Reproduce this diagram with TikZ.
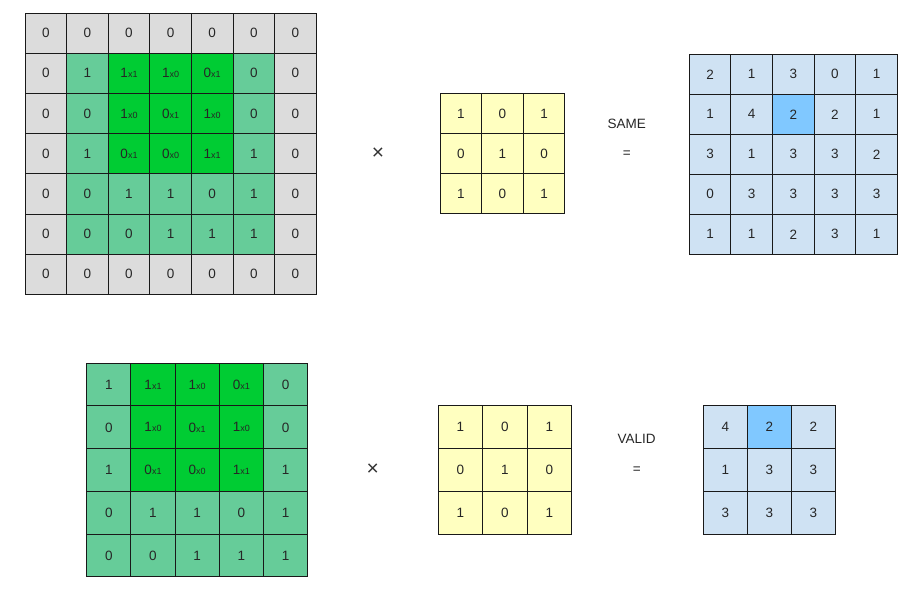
\documentclass[tikz,border=0pt]{standalone}
\usepackage{fontspec}
\setmainfont{Liberation Sans}
\usepackage{tikz}
\usetikzlibrary{positioning}

\definecolor{padgray}{RGB}{220,220,220}
\definecolor{inputgreen}{RGB}{102,204,153}
\definecolor{windowgreen}{RGB}{0,204,51}
\definecolor{kernelyellow}{RGB}{255,255,192}
\definecolor{outblue}{RGB}{207,226,243}
\definecolor{hiblue}{RGB}{128,200,255}

% small weight written after a value under the window
\newcommand{\kwt}[1]{{\fontsize{9}{9}\selectfont x#1}}

\tikzset{
  cell/.style={draw=black!90, line width=0.9pt, inner sep=0pt,
    font=\fontsize{13.5}{15}\selectfont, text=black!85},
  smallcell/.style={cell, minimum width=41.6pt, minimum height=40.2pt},
  bigcell/.style={cell, minimum width=44.2pt, minimum height=42.9pt},
  optext/.style={font=\fontsize{13.5}{15}\selectfont, text=black!85, inner sep=0pt},
  timestext/.style={font=\fontsize{21}{21}\selectfont, text=black!80, inner sep=0pt},
}

\begin{document}
\begin{tikzpicture}[x=1pt, y=-1pt]
    \useasboundingbox (0,0) rectangle (911,589);

    % padded input (7x7), window in rows 2-4, columns 3-5
    \foreach \vals [count=\r] in {{0,0,0,0,0,0,0},{0,1,1,1,0,0,0},{0,0,1,0,1,0,0},{0,1,0,0,1,1,0},{0,0,1,1,0,1,0},{0,0,0,1,1,1,0},{0,0,0,0,0,0,0}} {
        \foreach \v [count=\c] in \vals {
            \pgfmathtruncatemacro{\edge}{(\r==1 || \r==7 || \c==1 || \c==7) ? 1 : 0}
            \pgfmathtruncatemacro{\win}{(\r>1 && \r<5 && \c>2 && \c<6) ? 1 : 0}
            \pgfmathtruncatemacro{\w}{1-mod(\r+\c+1,2)}
            \ifnum\edge=1 \def\fc{padgray}\else\ifnum\win=1 \def\fc{windowgreen}\else\def\fc{inputgreen}\fi\fi
            \ifnum\win=1 \def\txt{\v\kwt{\w}}\else\def\txt{\v}\fi
            \node[smallcell, fill=\fc] (pad-\r-\c) at ({25+41.6*(\c-0.5)}, {13+40.2*(\r-0.5)}) {\txt};
        }
    }

    % kernel
    \foreach \vals [count=\r] in {{1,0,1},{0,1,0},{1,0,1}} {
        \foreach \v [count=\c] in \vals {
            \node[smallcell, fill=kernelyellow] (ka-\r-\c) at ({440+41.6*(\c-0.5)}, {93.3+40.2*(\r-0.5)}) {\v};
        }
    }

    % output, same padding
    \foreach \vals [count=\r] in {{2,1,3,0,1},{1,4,2,2,1},{3,1,3,3,2},{0,3,3,3,3},{1,1,2,3,1}} {
        \foreach \v [count=\c] in \vals {
            \pgfmathsetmacro{\fc}{(\r == 2 && \c == 3 ? "hiblue" : "outblue")}
            \node[smallcell, fill=\fc] (same-\r-\c) at ({689.3+41.6*(\c-0.5)}, {54.3+40*(\r-0.5)}) {\v};
        }
    }

    \node[timestext] (times-a) at (378,154) {×};
    \node[optext] (same) at (626.7,124) {SAME};
    \node[optext] (eq-a) at (626.7,154) {=};

    % input without padding, window in rows 1-3, columns 2-4
    \foreach \vals [count=\r] in {{1,1,1,0,0},{0,1,0,1,0},{1,0,0,1,1},{0,1,1,0,1},{0,0,1,1,1}} {
        \foreach \v [count=\c] in \vals {
            \pgfmathtruncatemacro{\win}{(\r<4 && \c>1 && \c<5) ? 1 : 0}
            \pgfmathtruncatemacro{\w}{mod(\r+\c,2)}
            \ifnum\win=1 \def\fc{windowgreen}\def\txt{\v\kwt{\w}}\else\def\fc{inputgreen}\def\txt{\v}\fi
            \node[bigcell, fill=\fc] (in-\r-\c) at ({86.7+44.2*(\c-0.5)}, {363.3+42.7*(\r-0.5)}) {\txt};
        }
    }

    % kernel
    \foreach \vals [count=\r] in {{1,0,1},{0,1,0},{1,0,1}} {
        \foreach \v [count=\c] in \vals {
            \node[bigcell, fill=kernelyellow] (kb-\r-\c) at ({438.3+44.4*(\c-0.5)}, {405+43*(\r-0.5)}) {\v};
        }
    }

    % output, valid
    \foreach \vals [count=\r] in {{4,2,2},{1,3,3},{3,3,3}} {
        \foreach \v [count=\c] in \vals {
            \pgfmathsetmacro{\fc}{(\r == 1 && \c == 2 ? "hiblue" : "outblue")}
            \node[bigcell, fill=\fc] (valid-\r-\c) at ({703.3+44*(\c-0.5)}, {405+43*(\r-0.5)}) {\v};
        }
    }

    \node[timestext] (times-b) at (372.7,470) {×};
    \node[optext] (valid) at (636.7,439.3) {VALID};
    \node[optext] (eq-b) at (636.7,470) {=};
\end{tikzpicture}
\end{document}
